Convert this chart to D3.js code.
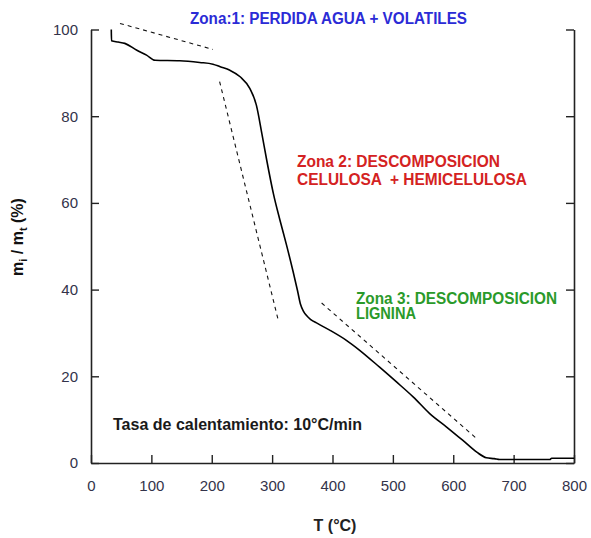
<!DOCTYPE html>
<html><head><meta charset="utf-8">
<script src="https://cdn.jsdelivr.net/npm/d3@7"></script>
<style>
body{margin:0;background:#fff;}
svg{display:block;font-family:"Liberation Sans",Arial,sans-serif;}
</style></head>
<body><svg id="c" width="591" height="538"></svg>
<script>
// TG curve: temperature (°C) and residual mass (%)
const temps = [33.6,34,45,56,76,92,106,147,180,202,214,230,247,263,274,283,291,302,313,324,335,342,347,352,357,364,375,396,423,445,478,506,534,561,589,616,639,655,668,677,700,760,763,800];
const mass  = [100,97.4,97.1,96.8,95.2,94.1,92.9,92.8,92.4,92.0,91.4,90.6,89.1,86.4,82.5,76.0,69.9,62.2,56.0,50.2,44.0,39.8,36.6,35.0,34.0,33.1,32.2,30.6,28.3,26.0,22.1,18.7,15.2,11.4,8.3,5.2,2.5,1.2,1.0,0.8,0.8,0.8,1.1,1.1];
// dashed tangent lines
const tangent1T = [48,202],  tangent1M = [101.4,95.4];
const tangent2T = [213,310], tangent2M = [88,33];
const tangent3T = [382,639], tangent3M = [36.9,5.6];
const xTicks = [0,100,200,300,400,500,600,700,800];
const yTicks = [0,20,40,60,80,100];

const svg = d3.select("#c");
const x = d3.scaleLinear().domain([0,800]).range([91,574]);
const y = d3.scaleLinear().domain([0,100]).range([463,29.5]);
const axisColor = "#222";

function styleAxis(g){
  g.selectAll("path.domain").attr("stroke",axisColor).attr("stroke-width",1.6);
  g.selectAll(".tick line").attr("stroke",axisColor).attr("stroke-width",1.4);
  g.selectAll(".tick text").attr("fill","#33334a").attr("font-size",15).attr("font-family","'Liberation Sans',Arial,sans-serif");
}
svg.append("g").attr("transform","translate(91,0)")
  .call(d3.axisLeft(y).tickValues(yTicks).tickSizeInner(-8).tickSizeOuter(0).tickPadding(13))
  .call(styleAxis);
svg.append("g").attr("transform","translate(574,0)")
  .call(d3.axisRight(y).tickValues(yTicks).tickSizeInner(-8).tickSizeOuter(0).tickFormat(""))
  .call(styleAxis);
svg.append("g").attr("transform","translate(0,463)")
  .call(d3.axisBottom(x).tickValues(xTicks).tickSizeInner(-8).tickSizeOuter(0).tickPadding(17))
  .call(styleAxis);

const line = d3.line().x(d=>x(d[0])).y(d=>y(d[1]));
const smooth = d3.line().x(d=>x(d[0])).y(d=>y(d[1])).curve(d3.curveMonotoneX);
svg.append("path").datum(temps.map((t,i)=>[t,mass[i]]))
  .attr("d",smooth).attr("fill","none").attr("stroke","#000").attr("stroke-width",1.6).attr("stroke-linejoin","round");

[[tangent1T,tangent1M],[tangent2T,tangent2M],[tangent3T,tangent3M]].forEach(([T,M])=>{
  svg.append("path").datum(T.map((t,i)=>[t,M[i]]))
    .attr("d",line).attr("fill","none").attr("stroke","#111").attr("stroke-width",1.1).attr("stroke-dasharray","4,4");
});

function label(txt,xx,yy,color,len,size){
  svg.append("text").attr("x",xx).attr("y",yy).attr("fill",color)
    .attr("font-weight","bold").attr("font-size",size||16)
    .style("white-space","pre")
    .attr("textLength",len).attr("lengthAdjust","spacingAndGlyphs").text(txt);
}
label("Zona:1: PERDIDA AGUA + VOLATILES",190,23.5,"#2b2bd6",277);
label("Zona 2: DESCOMPOSICION",297,166.5,"#d42222",203);
label("CELULOSA  + HEMICELULOSA",297,184.5,"#d42222",230);
label("Zona 3: DESCOMPOSICION",356,303.5,"#2a9a2a",201);
label("LIGNINA",356,319,"#2a9a2a",60);
label("Tasa de calentamiento: 10°C/min",113,430,"#1a1a1a",249);

// axis titles
svg.append("text").attr("x",335).attr("y",531).attr("text-anchor","middle")
  .attr("font-weight","bold").attr("font-size",16).attr("fill","#222").text("T (°C)");
const yt = svg.append("text").attr("transform","translate(23,237) rotate(-90)")
  .attr("text-anchor","middle").attr("font-weight","bold").attr("font-size",16).attr("fill","#111");
yt.append("tspan").text("m");
yt.append("tspan").attr("font-size",11).attr("dy",4).text("i");
yt.append("tspan").attr("dy",-4).text(" / m");
yt.append("tspan").attr("font-size",11).attr("dy",4).text("t");
yt.append("tspan").attr("dy",-4).text(" (%)");
</script></body></html>
